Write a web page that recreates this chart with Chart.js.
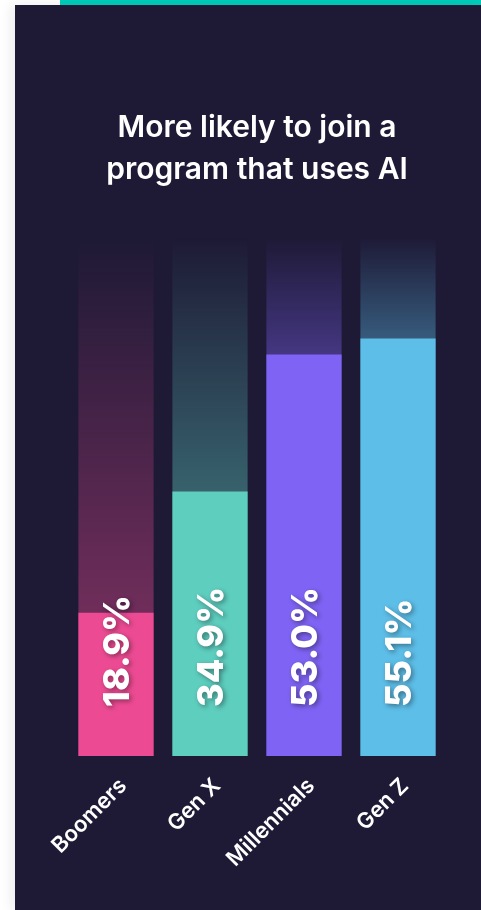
<!DOCTYPE html>
<html lang="en">
<head>
    <meta charset="UTF-8">
    <title>More likely to join a program that uses AI</title>
    <script src="https://cdn.jsdelivr.net/npm/chart.js"></script>
    <style>
        html, body { margin: 0; padding: 0; background: #ffffff; }
        body { width: 481px; height: 910px; position: relative; overflow: hidden; }
        #topbar { position: absolute; left: 60px; top: 0; width: 421px; height: 5px; background: #00cdb9; }
        #panel { position: absolute; left: 15px; top: 5px; width: 466px; height: 905px; background: #1e1a36;
                 box-shadow: -4px 0 12px rgba(30, 26, 54, 0.08); }
    </style>
</head>
<body>
    <div id="topbar"></div>
    <div id="panel"><canvas id="chart"></canvas></div>

    <script>
        // chart values
        const generations = ["Boomers", "Gen X", "Millennials", "Gen Z"];
        const likelyShare = [18.9, 34.9, 53.0, 55.1];
        const barColors = ["#ec4b93", "#5ecebf", "#7f63f4", "#5dbee8"];
        const trackMax = 68.5;
        const trackValues = [trackMax, trackMax, trackMax, trackMax];

        const fontFamily = "Inter, 'Open Sans', sans-serif";

        function hexToRgba(hex, a) {
            const n = parseInt(hex.slice(1), 16);
            return `rgba(${(n >> 16) & 255}, ${(n >> 8) & 255}, ${n & 255}, ${a})`;
        }

        // fading track behind each bar
        function trackColor(ctx) {
            const chart = ctx.chart;
            const area = chart.chartArea;
            if (!area || ctx.dataIndex === undefined) return "rgba(0,0,0,0)";
            const i = ctx.dataIndex;
            const yTop = chart.scales.y.getPixelForValue(likelyShare[i]);
            const g = chart.ctx.createLinearGradient(0, area.top, 0, yTop);
            g.addColorStop(0, hexToRgba(barColors[i], 0));
            g.addColorStop(1, hexToRgba(barColors[i], 0.4));
            return g;
        }

        const valueLabels = {
            id: "valueLabels",
            afterDatasetsDraw(chart) {
                const ctx = chart.ctx;
                const meta = chart.getDatasetMeta(0);
                ctx.save();
                ctx.font = `800 36px ${fontFamily}`;
                ctx.fillStyle = "#ffffff";
                ctx.textAlign = "left";
                ctx.textBaseline = "middle";
                ctx.shadowColor = "rgba(0, 0, 0, 0.4)";
                ctx.shadowBlur = 5;
                ctx.shadowOffsetX = 2;
                ctx.shadowOffsetY = 2;
                meta.data.forEach((bar, i) => {
                    ctx.save();
                    ctx.translate(bar.x + 2, bar.base - 49);
                    ctx.rotate(-Math.PI / 2);
                    ctx.fillText(likelyShare[i].toFixed(1) + "%", 0, 0);
                    ctx.restore();
                });
                ctx.restore();
            }
        };

        new Chart(document.getElementById("chart"), {
            type: "bar",
            data: {
                labels: generations,
                datasets: [
                    {
                        data: likelyShare,
                        backgroundColor: barColors,
                        barPercentage: 0.8,
                        categoryPercentage: 1,
                        grouped: false,
                        order: 0
                    },
                    {
                        data: trackValues,
                        backgroundColor: trackColor,
                        barPercentage: 0.8,
                        categoryPercentage: 1,
                        grouped: false,
                        order: 1
                    }
                ]
            },
            options: {
                responsive: true,
                maintainAspectRatio: false,
                animation: false,
                layout: { padding: { left: 54, right: 36, top: 0, bottom: 0 } },
                plugins: {
                    legend: { display: false },
                    tooltip: { enabled: false },
                    title: {
                        display: true,
                        text: ["More likely to join a", "program that uses AI"],
                        color: "#ffffff",
                        font: { family: fontFamily, size: 30, weight: "600", lineHeight: 1.4 },
                        padding: { top: 102, bottom: 46 }
                    }
                },
                scales: {
                    y: { display: false, min: 0, max: trackMax },
                    x: {
                        grid: { display: false },
                        border: { display: false },
                        ticks: {
                            color: "#ffffff",
                            font: { family: fontFamily, size: 22, weight: "600" },
                            minRotation: 45,
                            maxRotation: 45,
                            labelOffset: 7,
                            padding: 9
                        },
                        afterFit(scale) { scale.height = 154; }
                    }
                }
            },
            plugins: [valueLabels]
        });
    </script>
</body>
</html>
